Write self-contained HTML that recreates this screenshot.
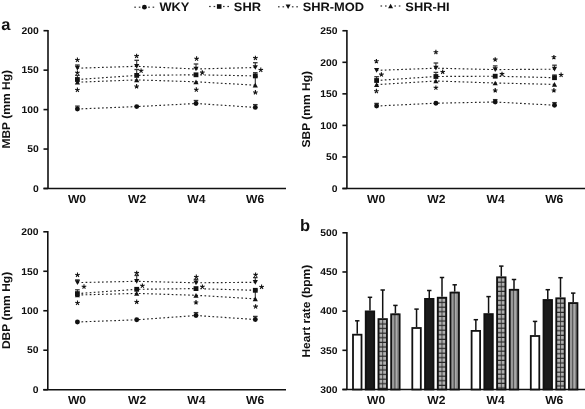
<!DOCTYPE html>
<html><head><meta charset="utf-8"><style>
html,body{margin:0;padding:0;background:#fff;width:585px;height:409px;overflow:hidden}
svg{display:block;will-change:transform}
</style></head><body>
<svg width="585" height="409" viewBox="0 0 585 409" font-family="Liberation Sans, sans-serif" font-weight="bold" fill="#111" text-rendering="geometricPrecision">

<rect x="134.30" y="6.60" width="1.6" height="1.2" fill="#333"/>
<rect x="138.80" y="6.60" width="1.6" height="1.2" fill="#333"/>
<rect x="148.20" y="6.60" width="1.6" height="1.2" fill="#333"/>
<rect x="152.60" y="6.60" width="1.6" height="1.2" fill="#333"/>
<circle cx="144.40" cy="7.20" r="2.4" fill="#111"/>
<text transform="translate(159.4,10.65) scale(1.055,1)" font-size="12.2">WKY</text>
<rect x="209.10" y="5.90" width="1.6" height="1.2" fill="#333"/>
<rect x="213.60" y="5.90" width="1.6" height="1.2" fill="#333"/>
<rect x="223.00" y="5.90" width="1.6" height="1.2" fill="#333"/>
<rect x="227.40" y="5.90" width="1.6" height="1.2" fill="#333"/>
<rect x="216.90" y="4.20" width="4.6" height="4.6" fill="#111"/>
<text transform="translate(233.83,10.65) scale(1.055,1)" font-size="12.2">SHR</text>
<rect x="278.00" y="6.20" width="1.6" height="1.2" fill="#333"/>
<rect x="282.50" y="6.20" width="1.6" height="1.2" fill="#333"/>
<rect x="291.90" y="6.20" width="1.6" height="1.2" fill="#333"/>
<rect x="296.30" y="6.20" width="1.6" height="1.2" fill="#333"/>
<path d="M285.60,4.55 L290.60,4.55 L288.10,9.05 Z" fill="#111"/>
<text transform="translate(302.63,10.65) scale(1.055,1)" font-size="12.2">SHR-MOD</text>
<rect x="380.50" y="5.40" width="1.6" height="1.2" fill="#333"/>
<rect x="385.00" y="5.40" width="1.6" height="1.2" fill="#333"/>
<rect x="394.40" y="5.40" width="1.6" height="1.2" fill="#333"/>
<rect x="398.80" y="5.40" width="1.6" height="1.2" fill="#333"/>
<path d="M388.10,8.25 L393.10,8.25 L390.60,3.75 Z" fill="#111"/>
<text transform="translate(405.33,10.65) scale(1.055,1)" font-size="12.2">SHR-HI</text>
<text x="1.28" y="29.8" font-size="16.5">a</text>
<text x="300.0" y="230.6" font-size="16.5">b</text>
<line x1="48.0" y1="29.9" x2="48.0" y2="188.5" stroke="#111" stroke-width="1.6"/>
<line x1="43.5" y1="188.5" x2="286" y2="188.5" stroke="#111" stroke-width="1.6"/>
<line x1="43.5" y1="30.70" x2="48.0" y2="30.70" stroke="#111" stroke-width="1.6"/>
<text transform="translate(38.73,33.95) scale(1.058,1)" font-size="9.8" text-anchor="end">200</text>
<line x1="43.5" y1="70.15" x2="48.0" y2="70.15" stroke="#111" stroke-width="1.6"/>
<text transform="translate(38.73,73.40) scale(1.058,1)" font-size="9.8" text-anchor="end">150</text>
<line x1="43.5" y1="109.60" x2="48.0" y2="109.60" stroke="#111" stroke-width="1.6"/>
<text transform="translate(38.73,112.85) scale(1.058,1)" font-size="9.8" text-anchor="end">100</text>
<line x1="43.5" y1="149.05" x2="48.0" y2="149.05" stroke="#111" stroke-width="1.6"/>
<text transform="translate(38.73,152.30) scale(1.058,1)" font-size="9.8" text-anchor="end">50</text>
<line x1="43.5" y1="188.50" x2="48.0" y2="188.50" stroke="#111" stroke-width="1.6"/>
<text transform="translate(38.73,191.75) scale(1.058,1)" font-size="9.8" text-anchor="end">0</text>
<text transform="translate(10.2,109.3) rotate(-90) scale(1.055,1)" font-size="11.4" text-anchor="middle">MBP (mm Hg)</text>
<text transform="translate(76.99,202.6) scale(1.037,1)" font-size="11.7" text-anchor="middle">W0</text>
<text transform="translate(137.19,202.6) scale(1.037,1)" font-size="11.7" text-anchor="middle">W2</text>
<text transform="translate(196.39,202.6) scale(1.037,1)" font-size="11.7" text-anchor="middle">W4</text>
<text transform="translate(255.04,202.6) scale(1.037,1)" font-size="11.7" text-anchor="middle">W6</text>
<path d="M77.40,109.00 L136.70,106.60 L196.00,103.50 L255.30,107.40" stroke="#222" stroke-width="1.15" stroke-dasharray="1.7 2.4" fill="none"/>
<path d="M77.40,79.50 L136.70,75.40 L196.00,74.80 L255.30,75.90" stroke="#222" stroke-width="1.15" stroke-dasharray="1.7 2.4" fill="none"/>
<path d="M77.40,82.20 L136.70,79.90 L196.00,81.80 L255.30,85.20" stroke="#222" stroke-width="1.15" stroke-dasharray="1.7 2.4" fill="none"/>
<path d="M77.40,68.20 L136.70,66.30 L196.00,69.00 L255.30,67.50" stroke="#222" stroke-width="1.15" stroke-dasharray="1.7 2.4" fill="none"/>
<line x1="77.40" y1="68.00" x2="77.40" y2="65.00" stroke="#333" stroke-width="1.1"/>
<line x1="75.10" y1="65.00" x2="79.70" y2="65.00" stroke="#333" stroke-width="1.3"/>
<line x1="136.70" y1="66.00" x2="136.70" y2="60.30" stroke="#333" stroke-width="1.1"/>
<line x1="134.40" y1="60.30" x2="139.00" y2="60.30" stroke="#333" stroke-width="1.3"/>
<line x1="196.00" y1="69.00" x2="196.00" y2="64.00" stroke="#333" stroke-width="1.1"/>
<line x1="193.70" y1="64.00" x2="198.30" y2="64.00" stroke="#333" stroke-width="1.3"/>
<line x1="255.30" y1="67.00" x2="255.30" y2="62.70" stroke="#333" stroke-width="1.1"/>
<line x1="253.00" y1="62.70" x2="257.60" y2="62.70" stroke="#333" stroke-width="1.3"/>
<line x1="77.40" y1="79.50" x2="77.40" y2="75.40" stroke="#333" stroke-width="1.1"/>
<line x1="75.10" y1="75.40" x2="79.70" y2="75.40" stroke="#333" stroke-width="1.3"/>
<line x1="136.70" y1="75.00" x2="136.70" y2="69.50" stroke="#333" stroke-width="1.1"/>
<line x1="134.40" y1="69.50" x2="139.00" y2="69.50" stroke="#333" stroke-width="1.3"/>
<line x1="255.30" y1="76.00" x2="255.30" y2="72.70" stroke="#333" stroke-width="1.1"/>
<line x1="253.00" y1="72.70" x2="257.60" y2="72.70" stroke="#333" stroke-width="1.3"/>
<line x1="255.30" y1="85.00" x2="255.30" y2="76.50" stroke="#333" stroke-width="1.1"/>
<line x1="253.00" y1="76.50" x2="257.60" y2="76.50" stroke="#333" stroke-width="1.3"/>
<line x1="196.00" y1="103.00" x2="196.00" y2="100.50" stroke="#333" stroke-width="1.1"/>
<line x1="193.70" y1="100.50" x2="198.30" y2="100.50" stroke="#333" stroke-width="1.3"/>
<line x1="255.30" y1="107.00" x2="255.30" y2="104.60" stroke="#333" stroke-width="1.1"/>
<line x1="253.00" y1="104.60" x2="257.60" y2="104.60" stroke="#333" stroke-width="1.3"/>
<line x1="77.40" y1="109.00" x2="77.40" y2="106.10" stroke="#333" stroke-width="1.1"/>
<line x1="75.10" y1="106.10" x2="79.70" y2="106.10" stroke="#333" stroke-width="1.3"/>
<circle cx="77.40" cy="109.00" r="2.45" fill="#111"/>
<path d="M74.80,84.54 L80.00,84.54 L77.40,79.86 Z" fill="#111"/>
<rect x="75.00" y="77.10" width="4.8" height="4.8" fill="#111"/>
<path d="M74.80,65.86 L80.00,65.86 L77.40,70.54 Z" fill="#111"/>
<circle cx="136.70" cy="106.60" r="2.45" fill="#111"/>
<path d="M134.10,82.24 L139.30,82.24 L136.70,77.56 Z" fill="#111"/>
<rect x="134.30" y="73.00" width="4.8" height="4.8" fill="#111"/>
<path d="M134.10,63.96 L139.30,63.96 L136.70,68.64 Z" fill="#111"/>
<circle cx="196.00" cy="103.50" r="2.45" fill="#111"/>
<path d="M193.40,84.14 L198.60,84.14 L196.00,79.46 Z" fill="#111"/>
<rect x="193.60" y="72.40" width="4.8" height="4.8" fill="#111"/>
<path d="M193.40,66.66 L198.60,66.66 L196.00,71.34 Z" fill="#111"/>
<circle cx="255.30" cy="107.40" r="2.45" fill="#111"/>
<path d="M252.70,87.54 L257.90,87.54 L255.30,82.86 Z" fill="#111"/>
<rect x="252.90" y="73.50" width="4.8" height="4.8" fill="#111"/>
<path d="M252.70,65.16 L257.90,65.16 L255.30,69.84 Z" fill="#111"/>
<path d="M77.40,60.00 L77.40,57.60 M77.40,60.00 L79.68,59.26 M77.40,60.00 L78.81,61.94 M77.40,60.00 L75.99,61.94 M77.40,60.00 L75.12,59.26 " stroke="#111" stroke-width="1.1" stroke-linecap="butt" fill="none"/>
<path d="M77.40,72.80 L77.40,70.40 M77.40,72.80 L79.68,72.06 M77.40,72.80 L78.81,74.74 M77.40,72.80 L75.99,74.74 M77.40,72.80 L75.12,72.06 " stroke="#111" stroke-width="1.1" stroke-linecap="butt" fill="none"/>
<path d="M77.40,90.00 L77.40,87.60 M77.40,90.00 L79.68,89.26 M77.40,90.00 L78.81,91.94 M77.40,90.00 L75.99,91.94 M77.40,90.00 L75.12,89.26 " stroke="#111" stroke-width="1.1" stroke-linecap="butt" fill="none"/>
<path d="M136.60,56.10 L136.60,53.70 M136.60,56.10 L138.88,55.36 M136.60,56.10 L138.01,58.04 M136.60,56.10 L135.19,58.04 M136.60,56.10 L134.32,55.36 " stroke="#111" stroke-width="1.1" stroke-linecap="butt" fill="none"/>
<path d="M141.10,70.80 L141.10,68.40 M141.10,70.80 L143.38,70.06 M141.10,70.80 L142.51,72.74 M141.10,70.80 L139.69,72.74 M141.10,70.80 L138.82,70.06 " stroke="#111" stroke-width="1.1" stroke-linecap="butt" fill="none"/>
<path d="M136.60,86.40 L136.60,84.00 M136.60,86.40 L138.88,85.66 M136.60,86.40 L138.01,88.34 M136.60,86.40 L135.19,88.34 M136.60,86.40 L134.32,85.66 " stroke="#111" stroke-width="1.1" stroke-linecap="butt" fill="none"/>
<path d="M196.60,58.70 L196.60,56.30 M196.60,58.70 L198.88,57.96 M196.60,58.70 L198.01,60.64 M196.60,58.70 L195.19,60.64 M196.60,58.70 L194.32,57.96 " stroke="#111" stroke-width="1.1" stroke-linecap="butt" fill="none"/>
<path d="M202.30,72.60 L202.30,70.20 M202.30,72.60 L204.58,71.86 M202.30,72.60 L203.71,74.54 M202.30,72.60 L200.89,74.54 M202.30,72.60 L200.02,71.86 " stroke="#111" stroke-width="1.1" stroke-linecap="butt" fill="none"/>
<path d="M196.30,89.70 L196.30,87.30 M196.30,89.70 L198.58,88.96 M196.30,89.70 L197.71,91.64 M196.30,89.70 L194.89,91.64 M196.30,89.70 L194.02,88.96 " stroke="#111" stroke-width="1.1" stroke-linecap="butt" fill="none"/>
<path d="M255.40,58.10 L255.40,55.70 M255.40,58.10 L257.68,57.36 M255.40,58.10 L256.81,60.04 M255.40,58.10 L253.99,60.04 M255.40,58.10 L253.12,57.36 " stroke="#111" stroke-width="1.1" stroke-linecap="butt" fill="none"/>
<path d="M260.80,70.00 L260.80,67.60 M260.80,70.00 L263.08,69.26 M260.80,70.00 L262.21,71.94 M260.80,70.00 L259.39,71.94 M260.80,70.00 L258.52,69.26 " stroke="#111" stroke-width="1.1" stroke-linecap="butt" fill="none"/>
<path d="M255.40,92.40 L255.40,90.00 M255.40,92.40 L257.68,91.66 M255.40,92.40 L256.81,94.34 M255.40,92.40 L253.99,94.34 M255.40,92.40 L253.12,91.66 " stroke="#111" stroke-width="1.1" stroke-linecap="butt" fill="none"/>
<line x1="346.9" y1="29.95" x2="346.9" y2="188.5" stroke="#111" stroke-width="1.6"/>
<line x1="342.4" y1="188.5" x2="585" y2="188.5" stroke="#111" stroke-width="1.6"/>
<line x1="342.4" y1="30.75" x2="346.9" y2="30.75" stroke="#111" stroke-width="1.6"/>
<text transform="translate(337.63,34.00) scale(1.058,1)" font-size="9.8" text-anchor="end">250</text>
<line x1="342.4" y1="62.30" x2="346.9" y2="62.30" stroke="#111" stroke-width="1.6"/>
<text transform="translate(337.63,65.55) scale(1.058,1)" font-size="9.8" text-anchor="end">200</text>
<line x1="342.4" y1="93.85" x2="346.9" y2="93.85" stroke="#111" stroke-width="1.6"/>
<text transform="translate(337.63,97.10) scale(1.058,1)" font-size="9.8" text-anchor="end">150</text>
<line x1="342.4" y1="125.40" x2="346.9" y2="125.40" stroke="#111" stroke-width="1.6"/>
<text transform="translate(337.63,128.65) scale(1.058,1)" font-size="9.8" text-anchor="end">100</text>
<line x1="342.4" y1="156.95" x2="346.9" y2="156.95" stroke="#111" stroke-width="1.6"/>
<text transform="translate(337.63,160.20) scale(1.058,1)" font-size="9.8" text-anchor="end">50</text>
<line x1="342.4" y1="188.50" x2="346.9" y2="188.50" stroke="#111" stroke-width="1.6"/>
<text transform="translate(337.63,191.75) scale(1.058,1)" font-size="9.8" text-anchor="end">0</text>
<text transform="translate(309.8,109.2) rotate(-90) scale(1.055,1)" font-size="11.4" text-anchor="middle">SBP (mm Hg)</text>
<text transform="translate(376.19,202.6) scale(1.037,1)" font-size="11.7" text-anchor="middle">W0</text>
<text transform="translate(436.39,202.6) scale(1.037,1)" font-size="11.7" text-anchor="middle">W2</text>
<text transform="translate(495.59,202.6) scale(1.037,1)" font-size="11.7" text-anchor="middle">W4</text>
<text transform="translate(554.24,202.6) scale(1.037,1)" font-size="11.7" text-anchor="middle">W6</text>
<path d="M376.60,106.00 L435.90,103.20 L495.20,102.00 L554.50,105.20" stroke="#222" stroke-width="1.15" stroke-dasharray="1.7 2.4" fill="none"/>
<path d="M376.60,80.50 L435.90,76.50 L495.20,76.20 L554.50,77.70" stroke="#222" stroke-width="1.15" stroke-dasharray="1.7 2.4" fill="none"/>
<path d="M376.60,84.60 L435.90,81.00 L495.20,83.00 L554.50,84.40" stroke="#222" stroke-width="1.15" stroke-dasharray="1.7 2.4" fill="none"/>
<path d="M376.60,70.40 L435.90,68.20 L495.20,69.60 L554.50,69.20" stroke="#222" stroke-width="1.15" stroke-dasharray="1.7 2.4" fill="none"/>
<line x1="376.60" y1="80.00" x2="376.60" y2="76.70" stroke="#333" stroke-width="1.1"/>
<line x1="374.30" y1="76.70" x2="378.90" y2="76.70" stroke="#333" stroke-width="1.3"/>
<line x1="435.90" y1="68.00" x2="435.90" y2="63.00" stroke="#333" stroke-width="1.1"/>
<line x1="433.60" y1="63.00" x2="438.20" y2="63.00" stroke="#333" stroke-width="1.3"/>
<line x1="435.90" y1="76.00" x2="435.90" y2="72.40" stroke="#333" stroke-width="1.1"/>
<line x1="433.60" y1="72.40" x2="438.20" y2="72.40" stroke="#333" stroke-width="1.3"/>
<line x1="495.20" y1="69.00" x2="495.20" y2="65.90" stroke="#333" stroke-width="1.1"/>
<line x1="492.90" y1="65.90" x2="497.50" y2="65.90" stroke="#333" stroke-width="1.3"/>
<line x1="554.50" y1="69.00" x2="554.50" y2="65.20" stroke="#333" stroke-width="1.1"/>
<line x1="552.20" y1="65.20" x2="556.80" y2="65.20" stroke="#333" stroke-width="1.3"/>
<line x1="554.50" y1="77.00" x2="554.50" y2="75.00" stroke="#333" stroke-width="1.1"/>
<line x1="552.20" y1="75.00" x2="556.80" y2="75.00" stroke="#333" stroke-width="1.3"/>
<line x1="554.50" y1="104.00" x2="554.50" y2="102.60" stroke="#333" stroke-width="1.1"/>
<line x1="552.20" y1="102.60" x2="556.80" y2="102.60" stroke="#333" stroke-width="1.3"/>
<line x1="376.60" y1="105.00" x2="376.60" y2="103.40" stroke="#333" stroke-width="1.1"/>
<line x1="374.30" y1="103.40" x2="378.90" y2="103.40" stroke="#333" stroke-width="1.3"/>
<line x1="495.20" y1="101.00" x2="495.20" y2="99.60" stroke="#333" stroke-width="1.1"/>
<line x1="492.90" y1="99.60" x2="497.50" y2="99.60" stroke="#333" stroke-width="1.3"/>
<circle cx="376.60" cy="106.00" r="2.45" fill="#111"/>
<path d="M374.00,86.94 L379.20,86.94 L376.60,82.26 Z" fill="#111"/>
<rect x="374.20" y="78.10" width="4.8" height="4.8" fill="#111"/>
<path d="M374.00,68.06 L379.20,68.06 L376.60,72.74 Z" fill="#111"/>
<circle cx="435.90" cy="103.20" r="2.45" fill="#111"/>
<path d="M433.30,83.34 L438.50,83.34 L435.90,78.66 Z" fill="#111"/>
<rect x="433.50" y="74.10" width="4.8" height="4.8" fill="#111"/>
<path d="M433.30,65.86 L438.50,65.86 L435.90,70.54 Z" fill="#111"/>
<circle cx="495.20" cy="102.00" r="2.45" fill="#111"/>
<path d="M492.60,85.34 L497.80,85.34 L495.20,80.66 Z" fill="#111"/>
<rect x="492.80" y="73.80" width="4.8" height="4.8" fill="#111"/>
<path d="M492.60,67.26 L497.80,67.26 L495.20,71.94 Z" fill="#111"/>
<circle cx="554.50" cy="105.20" r="2.45" fill="#111"/>
<path d="M551.90,86.74 L557.10,86.74 L554.50,82.06 Z" fill="#111"/>
<rect x="552.10" y="75.30" width="4.8" height="4.8" fill="#111"/>
<path d="M551.90,66.86 L557.10,66.86 L554.50,71.54 Z" fill="#111"/>
<path d="M376.40,61.30 L376.40,58.90 M376.40,61.30 L378.68,60.56 M376.40,61.30 L377.81,63.24 M376.40,61.30 L374.99,63.24 M376.40,61.30 L374.12,60.56 " stroke="#111" stroke-width="1.1" stroke-linecap="butt" fill="none"/>
<path d="M381.40,74.60 L381.40,72.20 M381.40,74.60 L383.68,73.86 M381.40,74.60 L382.81,76.54 M381.40,74.60 L379.99,76.54 M381.40,74.60 L379.12,73.86 " stroke="#111" stroke-width="1.1" stroke-linecap="butt" fill="none"/>
<path d="M376.40,91.20 L376.40,88.80 M376.40,91.20 L378.68,90.46 M376.40,91.20 L377.81,93.14 M376.40,91.20 L374.99,93.14 M376.40,91.20 L374.12,90.46 " stroke="#111" stroke-width="1.1" stroke-linecap="butt" fill="none"/>
<path d="M435.90,52.20 L435.90,49.80 M435.90,52.20 L438.18,51.46 M435.90,52.20 L437.31,54.14 M435.90,52.20 L434.49,54.14 M435.90,52.20 L433.62,51.46 " stroke="#111" stroke-width="1.1" stroke-linecap="butt" fill="none"/>
<path d="M442.70,71.90 L442.70,69.50 M442.70,71.90 L444.98,71.16 M442.70,71.90 L444.11,73.84 M442.70,71.90 L441.29,73.84 M442.70,71.90 L440.42,71.16 " stroke="#111" stroke-width="1.1" stroke-linecap="butt" fill="none"/>
<path d="M435.90,87.80 L435.90,85.40 M435.90,87.80 L438.18,87.06 M435.90,87.80 L437.31,89.74 M435.90,87.80 L434.49,89.74 M435.90,87.80 L433.62,87.06 " stroke="#111" stroke-width="1.1" stroke-linecap="butt" fill="none"/>
<path d="M495.20,59.60 L495.20,57.20 M495.20,59.60 L497.48,58.86 M495.20,59.60 L496.61,61.54 M495.20,59.60 L493.79,61.54 M495.20,59.60 L492.92,58.86 " stroke="#111" stroke-width="1.1" stroke-linecap="butt" fill="none"/>
<path d="M502.00,74.10 L502.00,71.70 M502.00,74.10 L504.28,73.36 M502.00,74.10 L503.41,76.04 M502.00,74.10 L500.59,76.04 M502.00,74.10 L499.72,73.36 " stroke="#111" stroke-width="1.1" stroke-linecap="butt" fill="none"/>
<path d="M495.20,90.40 L495.20,88.00 M495.20,90.40 L497.48,89.66 M495.20,90.40 L496.61,92.34 M495.20,90.40 L493.79,92.34 M495.20,90.40 L492.92,89.66 " stroke="#111" stroke-width="1.1" stroke-linecap="butt" fill="none"/>
<path d="M553.90,57.30 L553.90,54.90 M553.90,57.30 L556.18,56.56 M553.90,57.30 L555.31,59.24 M553.90,57.30 L552.49,59.24 M553.90,57.30 L551.62,56.56 " stroke="#111" stroke-width="1.1" stroke-linecap="butt" fill="none"/>
<path d="M561.10,75.00 L561.10,72.60 M561.10,75.00 L563.38,74.26 M561.10,75.00 L562.51,76.94 M561.10,75.00 L559.69,76.94 M561.10,75.00 L558.82,74.26 " stroke="#111" stroke-width="1.1" stroke-linecap="butt" fill="none"/>
<path d="M553.90,90.40 L553.90,88.00 M553.90,90.40 L556.18,89.66 M553.90,90.40 L555.31,92.34 M553.90,90.40 L552.49,92.34 M553.90,90.40 L551.62,89.66 " stroke="#111" stroke-width="1.1" stroke-linecap="butt" fill="none"/>
<line x1="47.8" y1="231.0" x2="47.8" y2="389.7" stroke="#111" stroke-width="1.6"/>
<line x1="43.3" y1="389.7" x2="286" y2="389.7" stroke="#111" stroke-width="1.6"/>
<line x1="43.3" y1="231.80" x2="47.8" y2="231.80" stroke="#111" stroke-width="1.6"/>
<text transform="translate(38.53,235.05) scale(1.058,1)" font-size="9.8" text-anchor="end">200</text>
<line x1="43.3" y1="271.27" x2="47.8" y2="271.27" stroke="#111" stroke-width="1.6"/>
<text transform="translate(38.53,274.52) scale(1.058,1)" font-size="9.8" text-anchor="end">150</text>
<line x1="43.3" y1="310.75" x2="47.8" y2="310.75" stroke="#111" stroke-width="1.6"/>
<text transform="translate(38.53,314.00) scale(1.058,1)" font-size="9.8" text-anchor="end">100</text>
<line x1="43.3" y1="350.23" x2="47.8" y2="350.23" stroke="#111" stroke-width="1.6"/>
<text transform="translate(38.53,353.48) scale(1.058,1)" font-size="9.8" text-anchor="end">50</text>
<line x1="43.3" y1="389.70" x2="47.8" y2="389.70" stroke="#111" stroke-width="1.6"/>
<text transform="translate(38.53,392.95) scale(1.058,1)" font-size="9.8" text-anchor="end">0</text>
<text transform="translate(10.4,310.45) rotate(-90) scale(1.055,1)" font-size="11.4" text-anchor="middle">DBP (mm Hg)</text>
<text transform="translate(76.99,403.7) scale(1.037,1)" font-size="11.7" text-anchor="middle">W0</text>
<text transform="translate(137.19,403.7) scale(1.037,1)" font-size="11.7" text-anchor="middle">W2</text>
<text transform="translate(196.39,403.7) scale(1.037,1)" font-size="11.7" text-anchor="middle">W4</text>
<text transform="translate(255.04,403.7) scale(1.037,1)" font-size="11.7" text-anchor="middle">W6</text>
<path d="M77.40,322.00 L136.70,319.80 L196.00,315.50 L255.30,319.50" stroke="#222" stroke-width="1.15" stroke-dasharray="1.7 2.4" fill="none"/>
<path d="M77.40,293.60 L136.70,289.30 L196.00,288.60 L255.30,290.30" stroke="#222" stroke-width="1.15" stroke-dasharray="1.7 2.4" fill="none"/>
<path d="M77.40,295.00 L136.70,293.40 L196.00,295.30 L255.30,298.80" stroke="#222" stroke-width="1.15" stroke-dasharray="1.7 2.4" fill="none"/>
<path d="M77.40,282.60 L136.70,281.30 L196.00,282.80 L255.30,282.30" stroke="#222" stroke-width="1.15" stroke-dasharray="1.7 2.4" fill="none"/>
<line x1="77.40" y1="282.00" x2="77.40" y2="279.90" stroke="#333" stroke-width="1.1"/>
<line x1="75.10" y1="279.90" x2="79.70" y2="279.90" stroke="#333" stroke-width="1.3"/>
<line x1="77.40" y1="293.00" x2="77.40" y2="289.80" stroke="#333" stroke-width="1.1"/>
<line x1="75.10" y1="289.80" x2="79.70" y2="289.80" stroke="#333" stroke-width="1.3"/>
<line x1="136.70" y1="281.00" x2="136.70" y2="275.50" stroke="#333" stroke-width="1.1"/>
<line x1="134.40" y1="275.50" x2="139.00" y2="275.50" stroke="#333" stroke-width="1.3"/>
<line x1="196.00" y1="283.00" x2="196.00" y2="279.40" stroke="#333" stroke-width="1.1"/>
<line x1="193.70" y1="279.40" x2="198.30" y2="279.40" stroke="#333" stroke-width="1.3"/>
<line x1="196.00" y1="315.00" x2="196.00" y2="312.60" stroke="#333" stroke-width="1.1"/>
<line x1="193.70" y1="312.60" x2="198.30" y2="312.60" stroke="#333" stroke-width="1.3"/>
<line x1="255.30" y1="282.00" x2="255.30" y2="277.60" stroke="#333" stroke-width="1.1"/>
<line x1="253.00" y1="277.60" x2="257.60" y2="277.60" stroke="#333" stroke-width="1.3"/>
<line x1="255.30" y1="299.00" x2="255.30" y2="290.00" stroke="#333" stroke-width="1.1"/>
<line x1="253.00" y1="290.00" x2="257.60" y2="290.00" stroke="#333" stroke-width="1.3"/>
<line x1="255.30" y1="319.00" x2="255.30" y2="316.40" stroke="#333" stroke-width="1.1"/>
<line x1="253.00" y1="316.40" x2="257.60" y2="316.40" stroke="#333" stroke-width="1.3"/>
<circle cx="77.40" cy="322.00" r="2.45" fill="#111"/>
<path d="M74.80,297.34 L80.00,297.34 L77.40,292.66 Z" fill="#111"/>
<rect x="75.00" y="291.20" width="4.8" height="4.8" fill="#111"/>
<path d="M74.80,280.26 L80.00,280.26 L77.40,284.94 Z" fill="#111"/>
<circle cx="136.70" cy="319.80" r="2.45" fill="#111"/>
<path d="M134.10,295.74 L139.30,295.74 L136.70,291.06 Z" fill="#111"/>
<rect x="134.30" y="286.90" width="4.8" height="4.8" fill="#111"/>
<path d="M134.10,278.96 L139.30,278.96 L136.70,283.64 Z" fill="#111"/>
<circle cx="196.00" cy="315.50" r="2.45" fill="#111"/>
<path d="M193.40,297.64 L198.60,297.64 L196.00,292.96 Z" fill="#111"/>
<rect x="193.60" y="286.20" width="4.8" height="4.8" fill="#111"/>
<path d="M193.40,280.46 L198.60,280.46 L196.00,285.14 Z" fill="#111"/>
<circle cx="255.30" cy="319.50" r="2.45" fill="#111"/>
<path d="M252.70,301.14 L257.90,301.14 L255.30,296.46 Z" fill="#111"/>
<rect x="252.90" y="287.90" width="4.8" height="4.8" fill="#111"/>
<path d="M252.70,279.96 L257.90,279.96 L255.30,284.64 Z" fill="#111"/>
<path d="M77.50,274.90 L77.50,272.50 M77.50,274.90 L79.78,274.16 M77.50,274.90 L78.91,276.84 M77.50,274.90 L76.09,276.84 M77.50,274.90 L75.22,274.16 " stroke="#111" stroke-width="1.1" stroke-linecap="butt" fill="none"/>
<path d="M84.00,286.70 L84.00,284.30 M84.00,286.70 L86.28,285.96 M84.00,286.70 L85.41,288.64 M84.00,286.70 L82.59,288.64 M84.00,286.70 L81.72,285.96 " stroke="#111" stroke-width="1.1" stroke-linecap="butt" fill="none"/>
<path d="M77.50,303.00 L77.50,300.60 M77.50,303.00 L79.78,302.26 M77.50,303.00 L78.91,304.94 M77.50,303.00 L76.09,304.94 M77.50,303.00 L75.22,302.26 " stroke="#111" stroke-width="1.1" stroke-linecap="butt" fill="none"/>
<path d="M136.70,273.10 L136.70,270.70 M136.70,273.10 L138.98,272.36 M136.70,273.10 L138.11,275.04 M136.70,273.10 L135.29,275.04 M136.70,273.10 L134.42,272.36 " stroke="#111" stroke-width="1.1" stroke-linecap="butt" fill="none"/>
<path d="M142.40,285.80 L142.40,283.40 M142.40,285.80 L144.68,285.06 M142.40,285.80 L143.81,287.74 M142.40,285.80 L140.99,287.74 M142.40,285.80 L140.12,285.06 " stroke="#111" stroke-width="1.1" stroke-linecap="butt" fill="none"/>
<path d="M136.70,301.90 L136.70,299.50 M136.70,301.90 L138.98,301.16 M136.70,301.90 L138.11,303.84 M136.70,301.90 L135.29,303.84 M136.70,301.90 L134.42,301.16 " stroke="#111" stroke-width="1.1" stroke-linecap="butt" fill="none"/>
<path d="M196.30,277.00 L196.30,274.60 M196.30,277.00 L198.58,276.26 M196.30,277.00 L197.71,278.94 M196.30,277.00 L194.89,278.94 M196.30,277.00 L194.02,276.26 " stroke="#111" stroke-width="1.1" stroke-linecap="butt" fill="none"/>
<path d="M202.40,286.80 L202.40,284.40 M202.40,286.80 L204.68,286.06 M202.40,286.80 L203.81,288.74 M202.40,286.80 L200.99,288.74 M202.40,286.80 L200.12,286.06 " stroke="#111" stroke-width="1.1" stroke-linecap="butt" fill="none"/>
<path d="M196.00,302.40 L196.00,300.00 M196.00,302.40 L198.28,301.66 M196.00,302.40 L197.41,304.34 M196.00,302.40 L194.59,304.34 M196.00,302.40 L193.72,301.66 " stroke="#111" stroke-width="1.1" stroke-linecap="butt" fill="none"/>
<path d="M255.60,274.80 L255.60,272.40 M255.60,274.80 L257.88,274.06 M255.60,274.80 L257.01,276.74 M255.60,274.80 L254.19,276.74 M255.60,274.80 L253.32,274.06 " stroke="#111" stroke-width="1.1" stroke-linecap="butt" fill="none"/>
<path d="M261.60,286.90 L261.60,284.50 M261.60,286.90 L263.88,286.16 M261.60,286.90 L263.01,288.84 M261.60,286.90 L260.19,288.84 M261.60,286.90 L259.32,286.16 " stroke="#111" stroke-width="1.1" stroke-linecap="butt" fill="none"/>
<path d="M255.60,306.60 L255.60,304.20 M255.60,306.60 L257.88,305.86 M255.60,306.60 L257.01,308.54 M255.60,306.60 L254.19,308.54 M255.60,306.60 L253.32,305.86 " stroke="#111" stroke-width="1.1" stroke-linecap="butt" fill="none"/>
<line x1="346.9" y1="232.0" x2="346.9" y2="389.5" stroke="#111" stroke-width="1.6"/>
<line x1="342.4" y1="389.5" x2="585" y2="389.5" stroke="#111" stroke-width="1.6"/>
<line x1="342.4" y1="232.80" x2="346.9" y2="232.80" stroke="#111" stroke-width="1.6"/>
<text transform="translate(337.63,236.05) scale(1.058,1)" font-size="9.8" text-anchor="end">500</text>
<line x1="342.4" y1="271.98" x2="346.9" y2="271.98" stroke="#111" stroke-width="1.6"/>
<text transform="translate(337.63,275.23) scale(1.058,1)" font-size="9.8" text-anchor="end">450</text>
<line x1="342.4" y1="311.15" x2="346.9" y2="311.15" stroke="#111" stroke-width="1.6"/>
<text transform="translate(337.63,314.40) scale(1.058,1)" font-size="9.8" text-anchor="end">400</text>
<line x1="342.4" y1="350.32" x2="346.9" y2="350.32" stroke="#111" stroke-width="1.6"/>
<text transform="translate(337.63,353.57) scale(1.058,1)" font-size="9.8" text-anchor="end">350</text>
<line x1="342.4" y1="389.50" x2="346.9" y2="389.50" stroke="#111" stroke-width="1.6"/>
<text transform="translate(337.63,392.75) scale(1.058,1)" font-size="9.8" text-anchor="end">300</text>
<text transform="translate(309.6,311.15) rotate(-90) scale(1.055,1)" font-size="11.4" text-anchor="middle">Heart rate (bpm)</text>
<text transform="translate(376.19,403.7) scale(1.037,1)" font-size="11.7" text-anchor="middle">W0</text>
<text transform="translate(436.39,403.7) scale(1.037,1)" font-size="11.7" text-anchor="middle">W2</text>
<text transform="translate(495.59,403.7) scale(1.037,1)" font-size="11.7" text-anchor="middle">W4</text>
<text transform="translate(554.24,403.7) scale(1.037,1)" font-size="11.7" text-anchor="middle">W6</text>
<defs><pattern id="chk0" patternUnits="userSpaceOnUse" x="379.25" y="319.95" width="3.9" height="4.6"><rect width="3.9" height="4.6" fill="#2a2a2a"/><rect x="0.05" y="0" width="3.05" height="3.4" fill="#b2b2b2"/></pattern><pattern id="chk1" patternUnits="userSpaceOnUse" x="438.55" y="298.55" width="3.9" height="4.6"><rect width="3.9" height="4.6" fill="#2a2a2a"/><rect x="0.05" y="0" width="3.05" height="3.4" fill="#b2b2b2"/></pattern><pattern id="chk2" patternUnits="userSpaceOnUse" x="497.85" y="278.15" width="3.9" height="4.6"><rect width="3.9" height="4.6" fill="#2a2a2a"/><rect x="0.05" y="0" width="3.05" height="3.4" fill="#b2b2b2"/></pattern><pattern id="chk3" patternUnits="userSpaceOnUse" x="557.05" y="299.15" width="3.9" height="4.6"><rect width="3.9" height="4.6" fill="#2a2a2a"/><rect x="0.05" y="0" width="3.05" height="3.4" fill="#b2b2b2"/></pattern></defs>
<line x1="357.25" y1="333.80" x2="357.25" y2="320.80" stroke="#111" stroke-width="1.5"/>
<line x1="355.05" y1="320.80" x2="359.45" y2="320.80" stroke="#111" stroke-width="1.5"/>
<rect x="352.85" y="334.55" width="8.80" height="54.95" fill="#fff"/>
<rect x="353.00" y="334.70" width="8.50" height="54.80" fill="none" stroke="#111" stroke-width="1.8"/>
<line x1="369.97" y1="310.50" x2="369.97" y2="297.30" stroke="#111" stroke-width="1.5"/>
<line x1="367.77" y1="297.30" x2="372.17" y2="297.30" stroke="#111" stroke-width="1.5"/>
<rect x="365.57" y="311.25" width="8.80" height="78.25" fill="#1a1a1a"/>
<rect x="365.72" y="311.40" width="8.50" height="78.10" fill="none" stroke="#111" stroke-width="1.8"/>
<line x1="382.70" y1="318.20" x2="382.70" y2="290.00" stroke="#111" stroke-width="1.5"/>
<line x1="380.50" y1="290.00" x2="384.90" y2="290.00" stroke="#111" stroke-width="1.5"/>
<rect x="378.30" y="318.95" width="8.80" height="70.55" fill="url(#chk0)"/>
<rect x="378.45" y="319.10" width="8.50" height="70.40" fill="none" stroke="#111" stroke-width="1.8"/>
<line x1="395.40" y1="313.40" x2="395.40" y2="305.40" stroke="#111" stroke-width="1.5"/>
<line x1="393.20" y1="305.40" x2="397.60" y2="305.40" stroke="#111" stroke-width="1.5"/>
<rect x="391.00" y="314.15" width="8.80" height="75.35" fill="#8a8a8a"/>
<rect x="391.95" y="313.40" width="2.4" height="76.10" fill="#9a9a9a"/>
<rect x="394.35" y="313.40" width="1.3" height="76.10" fill="#555"/>
<rect x="395.65" y="313.40" width="1.7" height="76.10" fill="#ababab"/>
<rect x="397.35" y="313.40" width="1.8" height="76.10" fill="#858585"/>
<rect x="391.15" y="314.30" width="8.50" height="75.20" fill="none" stroke="#111" stroke-width="1.8"/>
<line x1="416.55" y1="327.10" x2="416.55" y2="309.10" stroke="#111" stroke-width="1.5"/>
<line x1="414.35" y1="309.10" x2="418.75" y2="309.10" stroke="#111" stroke-width="1.5"/>
<rect x="412.15" y="327.85" width="8.80" height="61.65" fill="#fff"/>
<rect x="412.30" y="328.00" width="8.50" height="61.50" fill="none" stroke="#111" stroke-width="1.8"/>
<line x1="429.27" y1="298.00" x2="429.27" y2="290.50" stroke="#111" stroke-width="1.5"/>
<line x1="427.07" y1="290.50" x2="431.47" y2="290.50" stroke="#111" stroke-width="1.5"/>
<rect x="424.87" y="298.75" width="8.80" height="90.75" fill="#1a1a1a"/>
<rect x="425.02" y="298.90" width="8.50" height="90.60" fill="none" stroke="#111" stroke-width="1.8"/>
<line x1="442.00" y1="296.80" x2="442.00" y2="277.50" stroke="#111" stroke-width="1.5"/>
<line x1="439.80" y1="277.50" x2="444.20" y2="277.50" stroke="#111" stroke-width="1.5"/>
<rect x="437.60" y="297.55" width="8.80" height="91.95" fill="url(#chk1)"/>
<rect x="437.75" y="297.70" width="8.50" height="91.80" fill="none" stroke="#111" stroke-width="1.8"/>
<line x1="454.70" y1="291.70" x2="454.70" y2="284.80" stroke="#111" stroke-width="1.5"/>
<line x1="452.50" y1="284.80" x2="456.90" y2="284.80" stroke="#111" stroke-width="1.5"/>
<rect x="450.30" y="292.45" width="8.80" height="97.05" fill="#8a8a8a"/>
<rect x="451.25" y="291.70" width="2.4" height="97.80" fill="#9a9a9a"/>
<rect x="453.65" y="291.70" width="1.3" height="97.80" fill="#555"/>
<rect x="454.95" y="291.70" width="1.7" height="97.80" fill="#ababab"/>
<rect x="456.65" y="291.70" width="1.8" height="97.80" fill="#858585"/>
<rect x="450.45" y="292.60" width="8.50" height="96.90" fill="none" stroke="#111" stroke-width="1.8"/>
<line x1="475.85" y1="330.00" x2="475.85" y2="319.70" stroke="#111" stroke-width="1.5"/>
<line x1="473.65" y1="319.70" x2="478.05" y2="319.70" stroke="#111" stroke-width="1.5"/>
<rect x="471.45" y="330.75" width="8.80" height="58.75" fill="#fff"/>
<rect x="471.60" y="330.90" width="8.50" height="58.60" fill="none" stroke="#111" stroke-width="1.8"/>
<line x1="488.57" y1="313.20" x2="488.57" y2="296.60" stroke="#111" stroke-width="1.5"/>
<line x1="486.37" y1="296.60" x2="490.77" y2="296.60" stroke="#111" stroke-width="1.5"/>
<rect x="484.17" y="313.95" width="8.80" height="75.55" fill="#1a1a1a"/>
<rect x="484.32" y="314.10" width="8.50" height="75.40" fill="none" stroke="#111" stroke-width="1.8"/>
<line x1="501.30" y1="276.40" x2="501.30" y2="266.10" stroke="#111" stroke-width="1.5"/>
<line x1="499.10" y1="266.10" x2="503.50" y2="266.10" stroke="#111" stroke-width="1.5"/>
<rect x="496.90" y="277.15" width="8.80" height="112.35" fill="url(#chk2)"/>
<rect x="497.05" y="277.30" width="8.50" height="112.20" fill="none" stroke="#111" stroke-width="1.8"/>
<line x1="514.00" y1="288.90" x2="514.00" y2="279.50" stroke="#111" stroke-width="1.5"/>
<line x1="511.80" y1="279.50" x2="516.20" y2="279.50" stroke="#111" stroke-width="1.5"/>
<rect x="509.60" y="289.65" width="8.80" height="99.85" fill="#8a8a8a"/>
<rect x="510.55" y="288.90" width="2.4" height="100.60" fill="#9a9a9a"/>
<rect x="512.95" y="288.90" width="1.3" height="100.60" fill="#555"/>
<rect x="514.25" y="288.90" width="1.7" height="100.60" fill="#ababab"/>
<rect x="515.95" y="288.90" width="1.8" height="100.60" fill="#858585"/>
<rect x="509.75" y="289.80" width="8.50" height="99.70" fill="none" stroke="#111" stroke-width="1.8"/>
<line x1="535.05" y1="335.10" x2="535.05" y2="321.40" stroke="#111" stroke-width="1.5"/>
<line x1="532.85" y1="321.40" x2="537.25" y2="321.40" stroke="#111" stroke-width="1.5"/>
<rect x="530.65" y="335.85" width="8.80" height="53.65" fill="#fff"/>
<rect x="530.80" y="336.00" width="8.50" height="53.50" fill="none" stroke="#111" stroke-width="1.8"/>
<line x1="547.77" y1="299.10" x2="547.77" y2="289.70" stroke="#111" stroke-width="1.5"/>
<line x1="545.57" y1="289.70" x2="549.97" y2="289.70" stroke="#111" stroke-width="1.5"/>
<rect x="543.37" y="299.85" width="8.80" height="89.65" fill="#1a1a1a"/>
<rect x="543.52" y="300.00" width="8.50" height="89.50" fill="none" stroke="#111" stroke-width="1.8"/>
<line x1="560.50" y1="297.40" x2="560.50" y2="277.70" stroke="#111" stroke-width="1.5"/>
<line x1="558.30" y1="277.70" x2="562.70" y2="277.70" stroke="#111" stroke-width="1.5"/>
<rect x="556.10" y="298.15" width="8.80" height="91.35" fill="url(#chk3)"/>
<rect x="556.25" y="298.30" width="8.50" height="91.20" fill="none" stroke="#111" stroke-width="1.8"/>
<line x1="573.20" y1="302.20" x2="573.20" y2="293.10" stroke="#111" stroke-width="1.5"/>
<line x1="571.00" y1="293.10" x2="575.40" y2="293.10" stroke="#111" stroke-width="1.5"/>
<rect x="568.80" y="302.95" width="8.80" height="86.55" fill="#8a8a8a"/>
<rect x="569.75" y="302.20" width="2.4" height="87.30" fill="#9a9a9a"/>
<rect x="572.15" y="302.20" width="1.3" height="87.30" fill="#555"/>
<rect x="573.45" y="302.20" width="1.7" height="87.30" fill="#ababab"/>
<rect x="575.15" y="302.20" width="1.8" height="87.30" fill="#858585"/>
<rect x="568.95" y="303.10" width="8.50" height="86.40" fill="none" stroke="#111" stroke-width="1.8"/>
</svg></body></html>
